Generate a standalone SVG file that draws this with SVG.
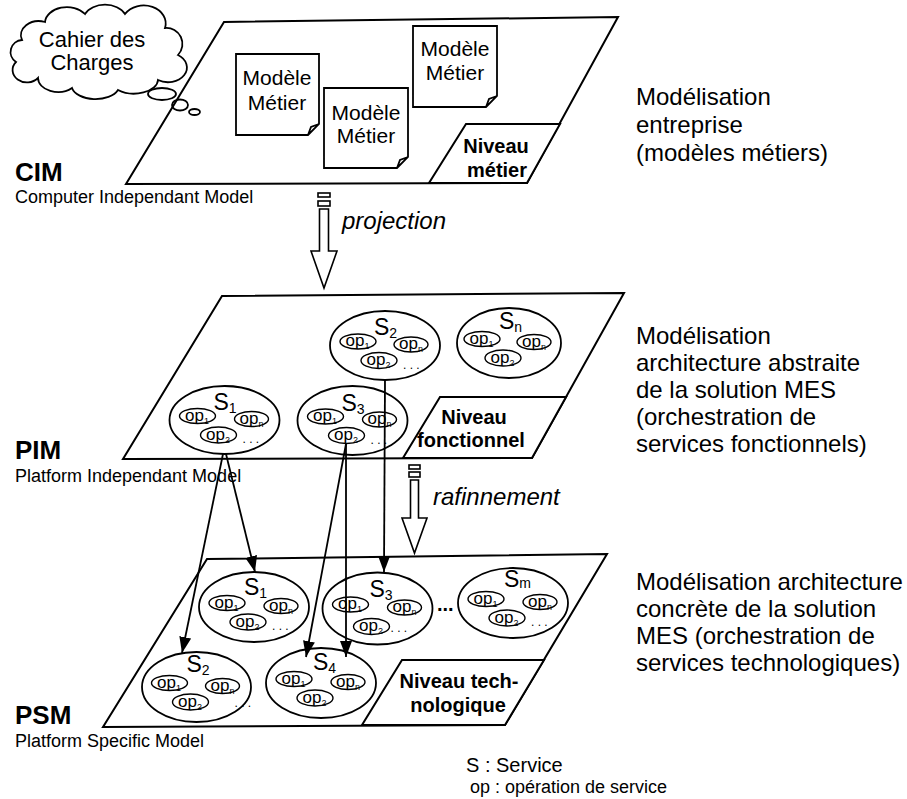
<svg xmlns="http://www.w3.org/2000/svg" width="907" height="799" viewBox="0 0 907 799">
<defs>
<style>
.plane{fill:#fff;stroke:#000;stroke-width:2;stroke-linejoin:miter}
.box{fill:#fff;stroke:#000;stroke-width:2}
.svc{fill:#fff;stroke:#000;stroke-width:1.8}
.op{fill:#fff;stroke:#000;stroke-width:1.4}
.doc{fill:#fff;stroke:#000;stroke-width:1.8}
.cl{fill:#fff;stroke:#000;stroke-width:1.8}
.bub{fill:none;stroke:#000;stroke-width:1.8}
text{font-family:"Liberation Sans",Arial,sans-serif;fill:#000}
.big{font-size:24px}
.it{font-size:24px;font-style:italic}
.lvl{font-size:20px;font-weight:bold;text-anchor:middle}
.code{font-size:26px;font-weight:bold}
.sub18{font-size:18px}
.doct{font-size:21px;text-anchor:middle}
.sl{font-size:23px}
.ss{font-size:14px}
.opt{font-size:17px}
.os{font-size:9px}
.dots{font-size:12px}
.conn{fill:none;stroke:#000;stroke-width:1.8;marker-end:url(#ah)}
.hol{fill:#fff;stroke:#000;stroke-width:1.6}
</style>
<marker id="ah" viewBox="0 0 16 12" refX="16" refY="6" markerWidth="16" markerHeight="12" markerUnits="userSpaceOnUse" orient="auto">
<path d="M0,0 L16,6 L0,12 Z" fill="#000"/>
</marker>
</defs>

<!-- CIM level -->
<g id="cim-plane">
<polygon class="plane" points="224,22 618,17 527,183 126,184"/>
<polygon class="box" points="466,124 560,124 527,183 429,183"/>
<text class="lvl" x="496" y="153">Niveau</text>
<text class="lvl" x="497" y="177">métier</text>
</g>
<g id="cim-label">
<text class="code" x="15" y="181">CIM</text>
<text class="sub18" x="15" y="203">Computer Independant Model</text>
</g>
<g id="cahier">
<path class="cl" d="M22,40 A18,14 0 0 1 45,22 A22,16 0 0 1 85,14 A22,16 0 0 1 125,14 A22,18 0 0 1 165,28 A16,16 0 0 1 178,55 A18,14 0 0 1 158,80 A24,14 0 0 1 118,90 A24,14 0 0 1 72,88 A20,14 0 0 1 38,78 A14,12 0 0 1 16,62 A12,12 0 0 1 22,40 Z"/>
<ellipse class="bub" cx="162" cy="94" rx="14" ry="6"/>
<ellipse class="bub" cx="180" cy="105" rx="8" ry="5.5"/>
<ellipse class="bub" cx="194.5" cy="112" rx="5.5" ry="3"/>
<text class="doct" style="font-size:22px" x="92" y="47">Cahier des</text>
<text class="doct" style="font-size:22px" x="92" y="70">Charges</text>
</g>
<g id="doc1">
<path class="doc" d="M236,54 H319 V124 L308,135 H236 Z M319,124 L311,127 L308,135"/>
<text class="doct" x="277" y="85">Modèle</text>
<text class="doct" x="277" y="110">Métier</text>
</g>
<g id="doc2">
<path class="doc" d="M324,88 H408 V157 L397,168 H324 Z M408,157 L400,160 L397,168"/>
<text class="doct" x="366" y="120">Modèle</text>
<text class="doct" x="366" y="143">Métier</text>
</g>
<g id="doc3">
<path class="doc" d="M413,26 H497 V96 L486,107 H413 Z M497,96 L489,99 L486,107"/>
<text class="doct" x="455" y="56">Modèle</text>
<text class="doct" x="455" y="80">Métier</text>
</g>
<g id="cim-desc">
<text class="big" x="636" y="105">Modélisation<tspan x="636" dy="28">entreprise</tspan><tspan x="636" dy="28">(modèles métiers)</tspan></text>
</g>

<!-- projection arrow -->
<g id="projection">
<rect class="hol" x="318" y="193" width="12" height="4"/>
<rect class="hol" x="318" y="201" width="12" height="5"/>
<polygon class="hol" points="319.5,209 328.5,209 328.5,251 337,251 324,288 311,251 319.5,251"/>
<text class="it" x="342" y="229">projection</text>
</g>

<!-- PIM level -->
<g id="pim-plane">
<polygon class="plane" points="222,296 624,293 532,458 123,459"/>
<polygon class="box" points="440,397 566,397 532,458 403,458"/>
<text class="lvl" x="474" y="424">Niveau</text>
<text class="lvl" x="471" y="447">fonctionnel</text>
</g>
<g id="pim-label">
<text class="code" x="15" y="459">PIM</text>
<text class="sub18" x="15" y="482">Platform Independant Model</text>
</g>
<g id="pim-s1" transform="translate(224.5,420)">
<ellipse class="svc" rx="55" ry="34"/>
<text class="sl" x="-11" y="-10">S<tspan class="ss" dy="3">1</tspan></text>
<ellipse class="op" cx="-27" cy="-4" rx="18" ry="7.5"/><text class="opt" x="-39.5" y="0.5">op<tspan class="os" dy="3">1</tspan></text>
<ellipse class="op" cx="27" cy="-1" rx="17" ry="7.5"/><text class="opt" x="15" y="3.5">op<tspan class="os" dy="3">n</tspan></text>
<ellipse class="op" cx="-6" cy="15" rx="18" ry="8"/><text class="opt" x="-18.5" y="19.5">op<tspan class="os" dy="3">2</tspan></text>
<text class="dots" x="18" y="23">. . .</text>
</g>
<g id="pim-s2" transform="translate(385,345.5)">
<ellipse class="svc" rx="55" ry="34.5"/>
<text class="sl" x="-11" y="-11">S<tspan class="ss" dy="3">2</tspan></text>
<ellipse class="op" cx="-27" cy="-4" rx="18" ry="7.5"/><text class="opt" x="-39.5" y="0.5">op<tspan class="os" dy="3">1</tspan></text>
<ellipse class="op" cx="26" cy="-1" rx="17" ry="7.5"/><text class="opt" x="14" y="3.5">op<tspan class="os" dy="3">n</tspan></text>
<ellipse class="op" cx="-6" cy="15" rx="18" ry="8"/><text class="opt" x="-18.5" y="19.5">op<tspan class="os" dy="3">2</tspan></text>
<text class="dots" x="18" y="23">. . .</text>
</g>
<g id="pim-sn" transform="translate(509,343)">
<ellipse class="svc" rx="52" ry="35"/>
<text class="sl" x="-10" y="-14">S<tspan class="ss" dy="3">n</tspan></text>
<ellipse class="op" cx="-27" cy="-4" rx="18" ry="7.5"/><text class="opt" x="-39.5" y="0.5">op<tspan class="os" dy="3">1</tspan></text>
<ellipse class="op" cx="25" cy="-1" rx="17" ry="7.5"/><text class="opt" x="13" y="3.5">op<tspan class="os" dy="3">n</tspan></text>
<ellipse class="op" cx="-6" cy="15" rx="18" ry="8"/><text class="opt" x="-18.5" y="19.5">op<tspan class="os" dy="3">2</tspan></text>
</g>
<g id="pim-s3" transform="translate(352.5,420.5)">
<ellipse class="svc" rx="55" ry="34.5"/>
<text class="sl" x="-11" y="-10">S<tspan class="ss" dy="3">3</tspan></text>
<ellipse class="op" cx="-27" cy="-4" rx="18" ry="7.5"/><text class="opt" x="-39.5" y="0.5">op<tspan class="os" dy="3">1</tspan></text>
<ellipse class="op" cx="27" cy="-1" rx="17" ry="7.5"/><text class="opt" x="15" y="3.5">op<tspan class="os" dy="3">n</tspan></text>
<ellipse class="op" cx="-6" cy="15" rx="18" ry="8"/><text class="opt" x="-18.5" y="19.5">op<tspan class="os" dy="3">2</tspan></text>
<text class="dots" x="18" y="23">. . .</text>
</g>
<g id="pim-desc">
<text class="big" x="636" y="344">Modélisation<tspan x="636" dy="27">architecture abstraite</tspan><tspan x="636" dy="27">de la solution MES</tspan><tspan x="636" dy="27">(orchestration de</tspan><tspan x="636" dy="27">services fonctionnels)</tspan></text>
</g>

<!-- rafinnement arrow -->
<g id="rafinnement">
<rect class="hol" x="409" y="465" width="11" height="4"/>
<rect class="hol" x="409" y="472" width="11" height="5"/>
<polygon class="hol" points="410.5,480 418.5,480 418.5,518 427,518 414.5,553 402,518 410.5,518"/>
<text class="it" x="433" y="505">rafinnement</text>
</g>

<!-- PSM level -->
<g id="psm-plane">
<polygon class="plane" points="207,559 607,554 505,725 103,727"/>
<polygon class="box" points="402,660 544,660 505,725 362,725"/>
<text class="lvl" x="459" y="688">Niveau tech-</text>
<text class="lvl" x="458" y="712">nologique</text>
</g>
<g id="psm-label">
<text class="code" x="15" y="724">PSM</text>
<text class="sub18" x="15" y="747">Platform Specific Model</text>
</g>
<g id="psm-s1" transform="translate(254,607)">
<ellipse class="svc" rx="55" ry="35"/>
<text class="sl" x="-10" y="-12">S<tspan class="ss" dy="3">1</tspan></text>
<ellipse class="op" cx="-27" cy="-4" rx="18" ry="7.5"/><text class="opt" x="-39.5" y="0.5">op<tspan class="os" dy="3">1</tspan></text>
<ellipse class="op" cx="27" cy="-1" rx="17" ry="7.5"/><text class="opt" x="15" y="3.5">op<tspan class="os" dy="3">n</tspan></text>
<ellipse class="op" cx="-6" cy="15" rx="18" ry="8"/><text class="opt" x="-18.5" y="19.5">op<tspan class="os" dy="3">2</tspan></text>
<text class="dots" x="18" y="23">. . .</text>
</g>
<g id="psm-s3" transform="translate(377.5,608.5)">
<ellipse class="svc" rx="55" ry="36"/>
<text class="sl" x="-8" y="-12">S<tspan class="ss" dy="3">3</tspan></text>
<ellipse class="op" cx="-27" cy="-4" rx="18" ry="7.5"/><text class="opt" x="-39.5" y="0.5">op<tspan class="os" dy="3">1</tspan></text>
<ellipse class="op" cx="27" cy="-1" rx="17" ry="7.5"/><text class="opt" x="15" y="3.5">op<tspan class="os" dy="3">n</tspan></text>
<ellipse class="op" cx="-6" cy="18" rx="18" ry="8"/><text class="opt" x="-18.5" y="22.5">op<tspan class="os" dy="3">2</tspan></text>
<text class="dots" x="13" y="23">. . .</text>
</g>
<g id="psm-dots">
<text x="437" y="611" style="font-size:20px;font-weight:bold">...</text>
</g>
<g id="psm-sm" transform="translate(513,603)">
<ellipse class="svc" rx="55" ry="35"/>
<text class="sl" x="-9" y="-16">S<tspan class="ss" dy="1">m</tspan></text>
<ellipse class="op" cx="-27" cy="-4" rx="18" ry="7.5"/><text class="opt" x="-39.5" y="0.5">op<tspan class="os" dy="3">1</tspan></text>
<ellipse class="op" cx="27" cy="-1" rx="17" ry="7.5"/><text class="opt" x="15" y="3.5">op<tspan class="os" dy="3">n</tspan></text>
<ellipse class="op" cx="-6" cy="15" rx="18" ry="8"/><text class="opt" x="-18.5" y="19.5">op<tspan class="os" dy="3">2</tspan></text>
<text class="dots" x="18" y="23">. . .</text>
</g>
<g id="psm-s2" transform="translate(196.5,687)">
<ellipse class="svc" rx="54.5" ry="35"/>
<text class="sl" x="-10" y="-15">S<tspan class="ss" dy="3">2</tspan></text>
<ellipse class="op" cx="-27" cy="-4" rx="18" ry="7.5"/><text class="opt" x="-39.5" y="0.5">op<tspan class="os" dy="3">1</tspan></text>
<ellipse class="op" cx="26" cy="-1" rx="17" ry="7.5"/><text class="opt" x="14" y="3.5">op<tspan class="os" dy="3">n</tspan></text>
<ellipse class="op" cx="-6" cy="15" rx="18" ry="8"/><text class="opt" x="-18.5" y="19.5">op<tspan class="os" dy="3">2</tspan></text>
<text class="dots" x="38" y="20">. . .</text>
</g>
<g id="psm-s4" transform="translate(321,683)">
<ellipse class="svc" rx="55" ry="35"/>
<text class="sl" x="-8" y="-13">S<tspan class="ss" dy="3">4</tspan></text>
<ellipse class="op" cx="-27" cy="-4" rx="18" ry="7.5"/><text class="opt" x="-39.5" y="0.5">op<tspan class="os" dy="3">1</tspan></text>
<ellipse class="op" cx="27" cy="-1" rx="17" ry="7.5"/><text class="opt" x="15" y="3.5">op<tspan class="os" dy="3">n</tspan></text>
<ellipse class="op" cx="-6" cy="15" rx="18" ry="8"/><text class="opt" x="-18.5" y="19.5">op<tspan class="os" dy="3">2</tspan></text>
</g>
<g id="psm-desc">
<text class="big" x="636" y="590">Modélisation architecture<tspan x="636" dy="27">concrète de la solution</tspan><tspan x="636" dy="27">MES (orchestration de</tspan><tspan x="636" dy="27">services technologiques)</tspan></text>
</g>

<g id="legend">
<text x="466" y="772" style="font-size:20px">S : Service</text>
<text x="470" y="793" style="font-size:18px">op : opération de service</text>
</g>

<!-- connectors -->
<g id="connectors">
<line class="conn" x1="226" y1="454" x2="255" y2="572"/>
<line class="conn" x1="223" y1="454" x2="182" y2="653"/>
<line class="conn" x1="385" y1="380" x2="384" y2="572"/>
<line class="conn" x1="346" y1="444" x2="306" y2="657"/>
<line class="conn" x1="346" y1="444" x2="346" y2="657"/>
</g>
</svg>
